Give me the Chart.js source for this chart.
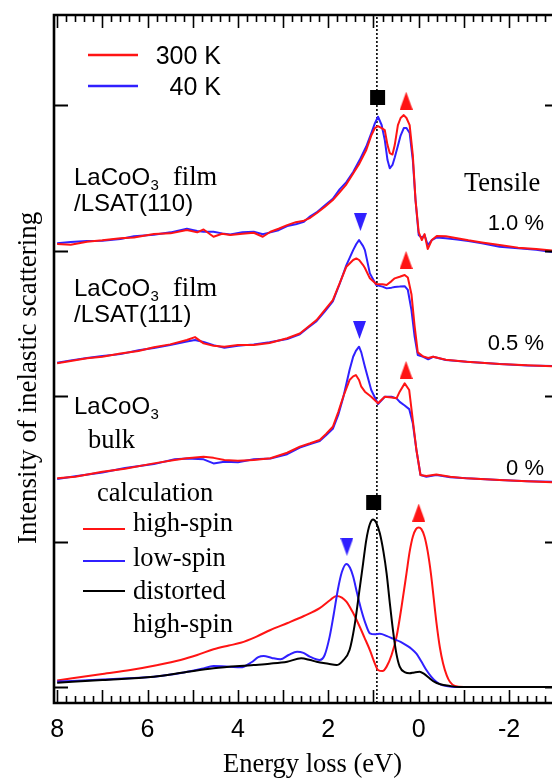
<!DOCTYPE html>
<html><head><meta charset="utf-8">
<script src="https://cdn.jsdelivr.net/npm/chart.js@4/dist/chart.umd.min.js"></script>
<style>html,body{margin:0;padding:0;background:#fff;overflow:hidden}canvas{display:block}</style>
</head><body>
<canvas id="c" width="552" height="780"></canvas>
<script>
// ---------- data (energy loss in eV, intensity in plotted offset units) ----------
const film110_E = [8.0,7.7,7.34,7.0,6.6,6.3,5.86,5.49,5.13,4.9,4.76,4.54,4.35,4.17,3.9,3.65,3.45,3.28,3.1,2.91,2.72,2.54,2.4,2.26,2.08,1.9,1.75,1.6,1.45,1.31,1.16,1.05,0.97,0.9,0.82,0.75,0.69,0.64,0.58,0.53,0.46,0.4,0.33,0.27,0.2,0.13,0.07,0.0,-0.07,-0.13,-0.2,-0.29,-0.4,-0.6,-0.85,-1.1,-1.4,-1.79,-2.2,-2.6,-2.95];
const film110_300K = [3.045,3.040,3.061,3.070,3.084,3.090,3.113,3.118,3.141,3.125,3.145,3.095,3.115,3.107,3.115,3.122,3.095,3.129,3.150,3.175,3.195,3.205,3.225,3.256,3.300,3.347,3.400,3.455,3.530,3.599,3.691,3.790,3.842,3.855,3.842,3.828,3.725,3.670,3.660,3.725,3.862,3.911,3.931,3.911,3.862,3.656,3.347,3.127,3.072,3.113,3.010,3.072,3.100,3.098,3.085,3.070,3.055,3.038,3.020,3.010,3.000];
const film110_40K = [3.050,3.058,3.065,3.068,3.080,3.098,3.108,3.125,3.150,3.135,3.129,3.129,3.118,3.110,3.125,3.130,3.112,3.125,3.140,3.168,3.180,3.198,3.235,3.262,3.310,3.355,3.420,3.470,3.540,3.620,3.715,3.805,3.874,3.920,3.863,3.759,3.622,3.565,3.588,3.640,3.720,3.790,3.842,3.842,3.808,3.622,3.347,3.107,3.086,3.107,3.038,3.072,3.090,3.085,3.075,3.065,3.050,3.026,3.015,3.005,2.990];

const film111_E = [8.0,7.7,7.34,7.0,6.6,6.2,5.86,5.5,5.13,4.95,4.76,4.54,4.3,4.0,3.65,3.3,2.91,2.63,2.45,2.26,2.08,1.9,1.75,1.6,1.45,1.38,1.32,1.23,1.19,1.08,0.94,0.8,0.71,0.6,0.53,0.42,0.31,0.24,0.16,0.09,0.02,-0.1,-0.21,-0.32,-0.6,-1.06,-1.79,-2.4,-2.95];
const film111_300K = [2.225,2.240,2.259,2.270,2.293,2.310,2.335,2.355,2.385,2.405,2.362,2.345,2.339,2.350,2.351,2.365,2.397,2.430,2.475,2.522,2.590,2.660,2.775,2.889,2.935,2.946,2.935,2.900,2.880,2.809,2.770,2.768,2.763,2.790,2.809,2.820,2.832,2.815,2.700,2.480,2.300,2.272,2.262,2.270,2.250,2.236,2.220,2.212,2.205];
const film111_40K = [2.228,2.245,2.262,2.275,2.288,2.315,2.330,2.350,2.375,2.385,2.372,2.350,2.332,2.345,2.355,2.370,2.392,2.425,2.470,2.515,2.580,2.650,2.770,2.900,3.003,3.045,3.072,3.030,3.003,2.843,2.763,2.752,2.740,2.745,2.750,2.752,2.755,2.729,2.591,2.408,2.282,2.270,2.252,2.270,2.248,2.236,2.220,2.210,2.206];

const bulk_E = [8.0,7.6,7.0,6.5,5.86,5.4,5.13,4.76,4.54,4.3,4.0,3.65,3.28,2.91,2.63,2.4,2.19,2.05,1.9,1.78,1.67,1.53,1.45,1.39,1.32,1.27,1.19,1.05,0.9,0.75,0.6,0.49,0.42,0.31,0.21,0.13,0.05,-0.04,-0.17,-0.39,-0.7,-1.06,-1.79,-2.4,-2.95];
const bulk_300K = [1.434,1.445,1.480,1.500,1.537,1.560,1.572,1.583,1.575,1.560,1.555,1.560,1.572,1.610,1.652,1.675,1.698,1.740,1.789,1.890,1.995,2.110,2.135,2.144,2.110,2.064,2.030,1.995,1.950,1.995,1.990,1.984,2.030,2.087,2.041,1.835,1.629,1.457,1.450,1.460,1.445,1.434,1.423,1.415,1.408];
const bulk_40K = [1.430,1.448,1.475,1.505,1.532,1.565,1.570,1.565,1.537,1.548,1.545,1.565,1.570,1.600,1.645,1.670,1.690,1.730,1.775,1.870,1.990,2.179,2.270,2.310,2.339,2.300,2.201,2.041,1.945,1.995,1.995,1.984,1.960,1.935,1.910,1.812,1.629,1.457,1.445,1.457,1.442,1.434,1.423,1.415,1.410];

const hs_E = [8.0,7.0,6.38,5.8,5.27,4.9,4.54,4.2,3.94,3.6,3.28,2.9,2.54,2.19,1.95,1.82,1.70,1.60,1.47,1.34,1.2,1.08,0.98,0.90,0.80,0.71,0.60,0.49,0.38,0.27,0.20,0.13,0.06,0.0,-0.06,-0.13,-0.20,-0.27,-0.39,-0.47,-0.54,-0.62,-0.69,-0.80,-1.0,-2.95];
const hs_I = [0.044,0.09,0.117,0.15,0.186,0.22,0.259,0.285,0.304,0.345,0.392,0.44,0.488,0.542,0.60,0.626,0.615,0.587,0.52,0.438,0.34,0.254,0.17,0.117,0.11,0.140,0.22,0.346,0.55,0.781,0.93,1.033,1.085,1.097,1.085,1.033,0.93,0.781,0.45,0.27,0.162,0.08,0.036,0.007,0.0,0.0];
const ls_E = [8.0,7.0,5.86,5.2,4.8,4.54,4.2,3.94,3.7,3.55,3.43,3.25,3.06,2.88,2.69,2.55,2.41,2.19,2.08,1.97,1.88,1.79,1.70,1.60,1.52,1.45,1.36,1.27,1.17,1.08,0.97,0.86,0.70,0.57,0.40,0.27,0.15,0.05,-0.06,-0.17,-0.28,-0.39,-0.50,-0.61,-0.8,-2.95];
const ls_I = [0.037,0.052,0.071,0.10,0.125,0.144,0.14,0.135,0.17,0.205,0.213,0.20,0.191,0.22,0.243,0.235,0.209,0.186,0.22,0.346,0.50,0.667,0.79,0.846,0.82,0.759,0.64,0.529,0.43,0.369,0.362,0.366,0.35,0.332,0.31,0.286,0.26,0.229,0.175,0.117,0.07,0.036,0.015,0.007,0.0,0.0];
const dhs_E = [8.0,7.0,5.86,5.2,4.54,3.65,3.3,2.91,2.6,2.4,2.26,2.0,1.82,1.68,1.53,1.42,1.31,1.23,1.16,1.08,1.01,0.94,0.86,0.78,0.71,0.64,0.57,0.50,0.42,0.30,0.20,0.10,-0.02,-0.12,-0.24,-0.35,-0.46,-0.69,-0.9,-2.95];
const dhs_I = [0.030,0.048,0.071,0.10,0.129,0.151,0.16,0.174,0.197,0.185,0.174,0.16,0.151,0.18,0.254,0.42,0.667,0.85,1.010,1.12,1.152,1.13,1.056,0.93,0.781,0.58,0.392,0.24,0.140,0.10,0.094,0.10,0.105,0.09,0.060,0.035,0.021,0.007,0.0,0.0];

const squareE = [0.909, 0.996];
const squareY = [4.052, 1.268];
const redUpE = [0.277, 0.28, 0.28, 0.0];
const redUpY = [4.03, 2.935, 2.179, 1.199];
const blueDownE = [1.29, 1.31, 1.589];
const blueDownY = [3.196, 2.454, 0.964];
const dottedE = 0.925;

const xTickValues = [8, 6, 4, 2, 0, -2];
const xTickLabels = ['8', '6', '4', '2', '0', '-2'];
const yTickValues = [0, 1, 2, 3, 4];

// ---------- styles ----------
const RED = '#ff1414', BLUE = '#3020ff', BLACK = '#000';
const SANS = '"Liberation Sans", Arial, sans-serif';
const SERIF = '"Liberation Serif", "Times New Roman", serif';
const X_MIN = -2.95, X_MAX = 8.07, Y_MIN = -0.11, Y_MAX = 4.619;

const pts = (xs, ys) => xs.map((v, i) => ({x: v, y: ys[i]}));

function triImg(up, color) {
  const c = document.createElement('canvas');
  c.width = 13; c.height = 18;
  const g = c.getContext('2d');
  g.fillStyle = color;
  g.beginPath();
  if (up) { g.moveTo(6.5, 0); g.lineTo(13, 18); g.lineTo(0, 18); }
  else { g.moveTo(0, 0); g.lineTo(13, 0); g.lineTo(6.5, 18); }
  g.closePath(); g.fill();
  return c;
}

const lineDs = (label, data, color, order) => ({
  label, data, borderColor: color, borderWidth: 2, pointRadius: 0, fill: false, tension: 0, order
});

const datasets = [
  {label:'dotted', data:[{x:dottedE,y:Y_MIN},{x:dottedE,y:Y_MAX}], borderColor:BLACK, borderWidth:1.6, borderDash:[2,2], pointRadius:0, order:9},
  lineDs('110 40K', pts(film110_E, film110_40K), BLUE, 5),
  lineDs('110 300K', pts(film110_E, film110_300K), RED, 4),
  lineDs('111 40K', pts(film111_E, film111_40K), BLUE, 5),
  lineDs('111 300K', pts(film111_E, film111_300K), RED, 4),
  lineDs('bulk 40K', pts(bulk_E, bulk_40K), BLUE, 5),
  lineDs('bulk 300K', pts(bulk_E, bulk_300K), RED, 4),
  {...lineDs('low-spin', pts(ls_E, ls_I), BLUE, 3), cubicInterpolationMode:'monotone'},
  {...lineDs('high-spin', pts(hs_E, hs_I), RED, 3), cubicInterpolationMode:'monotone'},
  {...lineDs('distorted high-spin', pts(dhs_E, dhs_I), BLACK, 2), cubicInterpolationMode:'monotone'},
  {label:'sq', type:'scatter', data: pts(squareE, squareY), pointStyle:'rect', pointRadius:10.6, backgroundColor:BLACK, borderWidth:0, showLine:false, order:0},
  {label:'up', type:'scatter', data: pts(redUpE, redUpY), pointStyle: triImg(true, RED), pointRadius:9, showLine:false, order:0},
  {label:'down', type:'scatter', data: pts(blueDownE, blueDownY), pointStyle: triImg(false, BLUE), pointRadius:9, showLine:false, order:0}
];

const deco = {
  id: 'deco',
  afterDraw(chart) {
    const {ctx, chartArea: a, scales: {x, y}} = chart;
    ctx.save();
    ctx.strokeStyle = BLACK; ctx.fillStyle = BLACK;
    // frame
    ctx.lineWidth = 2.6;
    ctx.beginPath();
    ctx.moveTo(560, a.top); ctx.lineTo(a.left, a.top); ctx.lineTo(a.left, a.bottom); ctx.lineTo(560, a.bottom);
    ctx.stroke();
    // x ticks (inward, top and bottom)
    ctx.lineWidth = 1.6;
    for (let i = -14; i <= 40; i++) {
      const v = i / 5;
      const px = Math.round(x.getPixelForValue(v)) + 0.5;
      if (px < a.left + 2) continue;
      const len = (i % 5 === 0) ? 13 : 7;
      ctx.beginPath();
      ctx.moveTo(px, a.bottom); ctx.lineTo(px, a.bottom - len);
      ctx.moveTo(px, a.top); ctx.lineTo(px, a.top + len);
      ctx.stroke();
    }
    // y ticks (inward, left and right)
    ctx.lineWidth = 2;
    yTickValues.forEach(v => {
      const py = Math.round(y.getPixelForValue(v)) + 0.5;
      ctx.beginPath();
      ctx.moveTo(a.left, py); ctx.lineTo(a.left + 14, py);
      ctx.moveTo(552, py); ctx.lineTo(545, py);
      ctx.stroke();
    });
    // x tick labels
    ctx.font = '25px ' + SANS; ctx.textAlign = 'center'; ctx.textBaseline = 'alphabetic';
    xTickValues.forEach((v, i) => ctx.fillText(xTickLabels[i], x.getPixelForValue(v), 737));
    // axis titles
    ctx.font = '26.5px ' + SERIF; ctx.textAlign = 'left';
    ctx.fillText('Energy loss (eV)', 223, 772);
    ctx.save();
    ctx.translate(36, 544); ctx.rotate(-Math.PI / 2);
    ctx.font = '27px ' + SERIF;
    ctx.fillText('Intensity of inelastic scattering', 0, 0);
    ctx.restore();

    const T = (s, px, py, font, align) => { ctx.font = font; ctx.textAlign = align || 'left'; ctx.fillText(s, px, py); };
    const LCO = (px, py) => {
      ctx.font = '24px ' + SANS; ctx.textAlign = 'left';
      ctx.fillText('LaCoO', px, py);
      const w = ctx.measureText('LaCoO').width;
      ctx.font = '15px ' + SANS;
      ctx.fillText('3', px + w + 0.5, py + 5);
    };
    // legend (experiment)
    ctx.lineWidth = 2.4;
    ctx.strokeStyle = RED; ctx.beginPath(); ctx.moveTo(88, 55); ctx.lineTo(138, 55); ctx.stroke();
    ctx.strokeStyle = BLUE; ctx.beginPath(); ctx.moveTo(88, 86); ctx.lineTo(138, 86); ctx.stroke();
    T('300 K', 221, 64, '25px ' + SANS, 'right');
    T('40 K', 221, 95, '25px ' + SANS, 'right');
    // sample labels
    LCO(74, 185); T('film', 173, 185, '26.5px ' + SERIF);
    T('/LSAT(110)', 74, 211, '24px ' + SANS);
    LCO(74, 296); T('film', 173, 296, '26.5px ' + SERIF);
    T('/LSAT(111)', 74, 322, '24px ' + SANS);
    LCO(74, 414); T('bulk', 88, 448, '26.5px ' + SERIF);
    // strain labels
    T('Tensile', 464, 191, '26.5px ' + SERIF);
    T('1.0 %', 544, 230, '22px ' + SANS, 'right');
    T('0.5 %', 544, 350, '22px ' + SANS, 'right');
    T('0 %', 544, 475, '22px ' + SANS, 'right');
    // calculation legend
    T('calculation', 97, 501, '26.5px ' + SERIF);
    ctx.lineWidth = 2;
    [[RED, 529], [BLUE, 561], [BLACK, 591]].forEach(([c, py]) => {
      ctx.strokeStyle = c; ctx.beginPath(); ctx.moveTo(83, py); ctx.lineTo(125, py); ctx.stroke();
    });
    T('high-spin', 133, 531, '26.5px ' + SERIF);
    T('low-spin', 133, 566, '26.5px ' + SERIF);
    T('distorted', 133, 599, '26.5px ' + SERIF);
    T('high-spin', 133, 632, '26.5px ' + SERIF);
    ctx.restore();
  }
};

new Chart(document.getElementById('c'), {
  type: 'line',
  data: { datasets },
  options: {
    responsive: false, animation: false, devicePixelRatio: 1,
    layout: { autoPadding: false, padding: { left: 54, top: 15, right: 0, bottom: 77 } },
    scales: {
      x: { type: 'linear', reverse: true, min: X_MIN, max: X_MAX, display: false },
      y: { type: 'linear', min: Y_MIN, max: Y_MAX, display: false }
    },
    plugins: { legend: { display: false }, tooltip: { enabled: false } },
    elements: { line: { borderJoinStyle: 'round' } }
  },
  plugins: [deco]
});
</script>
</body></html>
